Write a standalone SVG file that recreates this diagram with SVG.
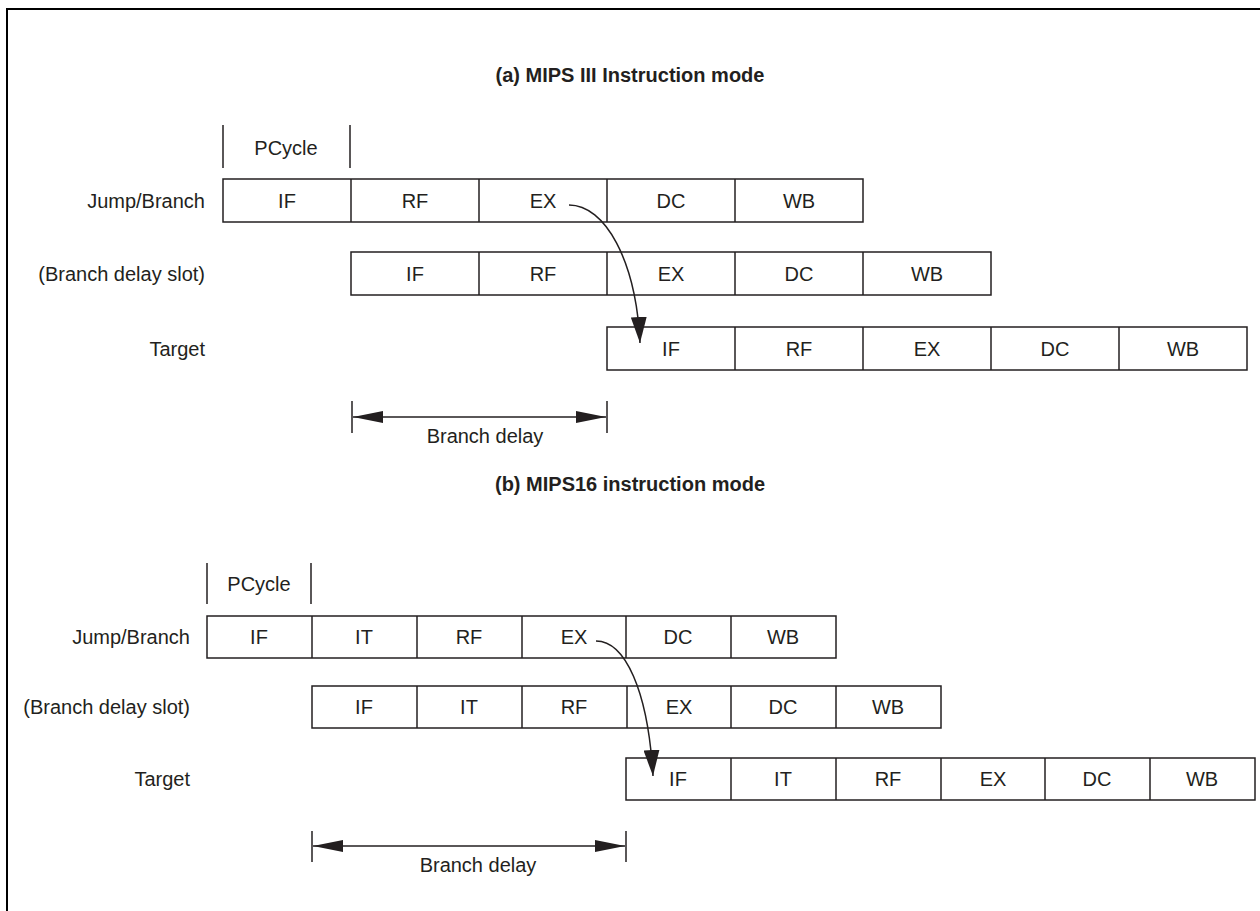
<svg xmlns="http://www.w3.org/2000/svg" width="1260" height="911" viewBox="0 0 1260 911">
<style>
text{font-family:"Liberation Sans",Arial,sans-serif;font-size:20px;fill:#231f20}
.c{text-anchor:middle}
.r{text-anchor:end}
.t{font-weight:bold;text-anchor:middle}
.box{fill:#fff;stroke:#231f20;stroke-width:1.5}
.ln{stroke:#231f20;stroke-width:1.5;fill:none}
</style>
<defs>
<marker id="ah" viewBox="0 0 30 12" refX="30" refY="6" markerWidth="30" markerHeight="12" markerUnits="userSpaceOnUse" orient="auto-start-reverse">
<path d="M0,0 L30,6 L0,12 Z" fill="#231f20"/>
</marker>
<marker id="ch" viewBox="0 0 26 16" refX="26" refY="8" markerWidth="26" markerHeight="16" markerUnits="userSpaceOnUse" orient="auto">
<path d="M0,0 L26,8 L0,16 Z" fill="#231f20"/>
</marker>
</defs>
<rect width="1260" height="911" fill="#fff"/>
<path d="M7,911 V9 H1260" fill="none" stroke="#000" stroke-width="2"/>

<text class="t" x="630" y="82">(a) MIPS III Instruction mode</text>

<g id="a-pcycle">
<line class="ln" x1="223" y1="125" x2="223" y2="168"/>
<line class="ln" x1="350" y1="125" x2="350" y2="168"/>
<text class="c" x="286" y="155">PCycle</text>
</g>

<g id="a-jump">
<text class="r" x="205" y="208">Jump/Branch</text>
<rect class="box" x="223" y="179" width="640" height="43"/>
<line class="ln" x1="351" y1="179" x2="351" y2="222"/>
<line class="ln" x1="479" y1="179" x2="479" y2="222"/>
<line class="ln" x1="607" y1="179" x2="607" y2="222"/>
<line class="ln" x1="735" y1="179" x2="735" y2="222"/>
<text class="c" x="287" y="208">IF</text>
<text class="c" x="415" y="208">RF</text>
<text class="c" x="543" y="208">EX</text>
<text class="c" x="671" y="208">DC</text>
<text class="c" x="799" y="208">WB</text>
</g>

<g id="a-slot">
<text class="r" x="205" y="281">(Branch delay slot)</text>
<rect class="box" x="351" y="252" width="640" height="43"/>
<line class="ln" x1="479" y1="252" x2="479" y2="295"/>
<line class="ln" x1="607" y1="252" x2="607" y2="295"/>
<line class="ln" x1="735" y1="252" x2="735" y2="295"/>
<line class="ln" x1="863" y1="252" x2="863" y2="295"/>
<text class="c" x="415" y="281">IF</text>
<text class="c" x="543" y="281">RF</text>
<text class="c" x="671" y="281">EX</text>
<text class="c" x="799" y="281">DC</text>
<text class="c" x="927" y="281">WB</text>
</g>

<g id="a-target">
<text class="r" x="205" y="356">Target</text>
<rect class="box" x="607" y="327" width="640" height="43"/>
<line class="ln" x1="735" y1="327" x2="735" y2="370"/>
<line class="ln" x1="863" y1="327" x2="863" y2="370"/>
<line class="ln" x1="991" y1="327" x2="991" y2="370"/>
<line class="ln" x1="1119" y1="327" x2="1119" y2="370"/>
<text class="c" x="671" y="356">IF</text>
<text class="c" x="799" y="356">RF</text>
<text class="c" x="927" y="356">EX</text>
<text class="c" x="1055" y="356">DC</text>
<text class="c" x="1183" y="356">WB</text>
</g>

<g id="a-delay">
<line class="ln" x1="352" y1="401" x2="352" y2="433"/>
<line class="ln" x1="607" y1="401" x2="607" y2="433"/>
<text class="c" x="485" y="443">Branch delay</text>
</g>

<text class="t" x="630" y="491">(b) MIPS16 instruction mode</text>

<g id="b-pcycle">
<line class="ln" x1="207" y1="563" x2="207" y2="604"/>
<line class="ln" x1="311" y1="563" x2="311" y2="604"/>
<text class="c" x="259" y="591">PCycle</text>
</g>

<g id="b-jump">
<text class="r" x="190" y="644">Jump/Branch</text>
<rect class="box" x="207" y="616" width="629" height="42"/>
<line class="ln" x1="312" y1="616" x2="312" y2="658"/>
<line class="ln" x1="417" y1="616" x2="417" y2="658"/>
<line class="ln" x1="522" y1="616" x2="522" y2="658"/>
<line class="ln" x1="626" y1="616" x2="626" y2="658"/>
<line class="ln" x1="731" y1="616" x2="731" y2="658"/>
<text class="c" x="259" y="644">IF</text>
<text class="c" x="364" y="644">IT</text>
<text class="c" x="469" y="644">RF</text>
<text class="c" x="574" y="644">EX</text>
<text class="c" x="678" y="644">DC</text>
<text class="c" x="783" y="644">WB</text>
</g>

<g id="b-slot">
<text class="r" x="190" y="714">(Branch delay slot)</text>
<rect class="box" x="312" y="686" width="629" height="42"/>
<line class="ln" x1="417" y1="686" x2="417" y2="728"/>
<line class="ln" x1="522" y1="686" x2="522" y2="728"/>
<line class="ln" x1="627" y1="686" x2="627" y2="728"/>
<line class="ln" x1="731" y1="686" x2="731" y2="728"/>
<line class="ln" x1="836" y1="686" x2="836" y2="728"/>
<text class="c" x="364" y="714">IF</text>
<text class="c" x="469" y="714">IT</text>
<text class="c" x="574" y="714">RF</text>
<text class="c" x="679" y="714">EX</text>
<text class="c" x="783" y="714">DC</text>
<text class="c" x="888" y="714">WB</text>
</g>

<g id="b-target">
<text class="r" x="190" y="786">Target</text>
<rect class="box" x="626" y="758" width="629" height="42"/>
<line class="ln" x1="731" y1="758" x2="731" y2="800"/>
<line class="ln" x1="836" y1="758" x2="836" y2="800"/>
<line class="ln" x1="941" y1="758" x2="941" y2="800"/>
<line class="ln" x1="1045" y1="758" x2="1045" y2="800"/>
<line class="ln" x1="1150" y1="758" x2="1150" y2="800"/>
<text class="c" x="678" y="786">IF</text>
<text class="c" x="783" y="786">IT</text>
<text class="c" x="888" y="786">RF</text>
<text class="c" x="993" y="786">EX</text>
<text class="c" x="1097" y="786">DC</text>
<text class="c" x="1202" y="786">WB</text>
</g>

<g id="b-delay">
<line class="ln" x1="312" y1="831" x2="312" y2="862"/>
<line class="ln" x1="626" y1="831" x2="626" y2="862"/>
<text class="c" x="478" y="872">Branch delay</text>
</g>

<g id="connectors">
<path class="ln" d="M569,205 C605,205 636,260 640,343" stroke-width="1.3" marker-end="url(#ch)"/>
<path class="ln" d="M596,641 C625,641 648,690 653,776" stroke-width="1.3" marker-end="url(#ch)"/>
<line class="ln" x1="353" y1="417" x2="606" y2="417" marker-start="url(#ah)" marker-end="url(#ah)"/>
<line class="ln" x1="313" y1="846" x2="625" y2="846" marker-start="url(#ah)" marker-end="url(#ah)"/>
</g>
</svg>
